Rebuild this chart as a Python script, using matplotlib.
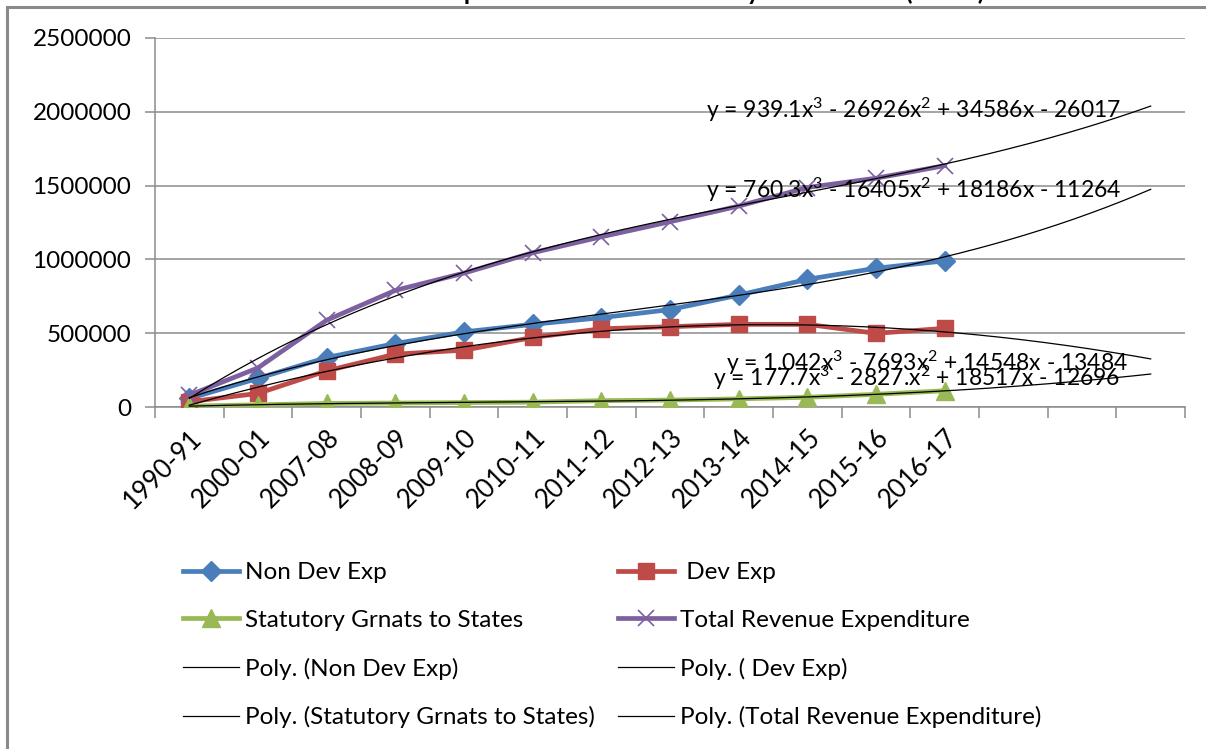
import numpy as np
import matplotlib
matplotlib.use("Agg")
from matplotlib import pyplot as plt
from matplotlib.ticker import FuncFormatter
from matplotlib.patches import Rectangle

years = ['1990-91', '2000-01', '2007-08', '2008-09', '2009-10', '2010-11',
         '2011-12', '2012-13', '2013-14', '2014-15', '2015-16', '2016-17']
non_dev = [58000, 194000, 335000, 430000, 509000, 560000,
           605000, 660000, 758000, 865000, 940000, 990000]
dev = [36000, 92000, 245000, 358000, 385000, 471000,
       530000, 544000, 560000, 560000, 499000, 533000]
statutory = [6000, 15000, 24000, 27000, 30000, 33000,
             43000, 47000, 55000, 66000, 86000, 110000]
total = [80000, 265000, 588000, 790000, 907000, 1045000,
         1153000, 1255000, 1361000, 1487000, 1550000, 1635000]
equations = ['y = 939.1x$^3$ - 26926x$^2$ + 34586x - 26017',
             'y = 760.3x$^3$ - 16405x$^2$ + 18186x - 11264',
             'y = 1.042x$^3$ - 7693x$^2$ + 14548x - 13484',
             'y = 177.7x$^3$ - 2827.x$^2$ + 18517x - 12696']
forward = 3

plt.rcParams['font.family'] = ['Lato', 'DejaVu Sans']
plt.rcParams['mathtext.default'] = 'regular'

fig = plt.figure(figsize=(12.06, 7.49), dpi=100)
ax = fig.add_axes([0.1285, 0.4566, 0.8541, 0.4927])

# chart frame (only top and left edge visible in the screenshot)
fig.patches.append(Rectangle((0.0058, -0.2), 1.2, 1.19, transform=fig.transFigure,
                             fill=False, edgecolor='#8a8a8a', lw=2.2))
fig.text(333 / 1206, 1.0, 'Revenue Expenditure of the Centre by Main Heads (Rs. Cr)',
         ha='left', va='baseline', fontsize=18, fontweight='bold')

x = np.arange(len(years))
series = [
    ('Non Dev Exp', non_dev, '#4a7ebb', 'D', 10.5, 0),
    (' Dev Exp', dev, '#be4b48', 's', 12, 0),
    ('Statutory Grnats to States', statutory, '#98b954', '^', 13, 0),
    ('Total Revenue Expenditure', total, '#7d60a0', 'x', 12, 1.2),
]

lines = []
trends = []
xt = np.linspace(0, len(years) - 1 + forward, 300)
for name, vals, col, mk, ms, mew in series:
    if mk == 'x':
        l, = ax.plot(x, vals, color=col, lw=3.4, marker=mk, ms=ms, mec=col, mew=mew,
                     label=name, zorder=3)
    else:
        l, = ax.plot(x, vals, color=col, lw=3.4, marker=mk, ms=ms, mec=col,
                     label=name, zorder=3)
    lines.append(l)
for name, vals, col, mk, ms, mew in series:
    c = np.polyfit(x, vals, 3)
    t, = ax.plot(xt, np.polyval(c, xt), color='black', lw=0.9,
                 label='Poly. (' + name + ')', zorder=4)
    trends.append(t)

# trendline equation labels
ax.text(10.55, 2010000, equations[0], ha='center', va='center', fontsize=16.5, zorder=5)
ax.text(10.55, 1470000, equations[1], ha='center', va='center', fontsize=16.5, zorder=5)
ax.text(10.74, 300000, equations[2], ha='center', va='center', fontsize=16.5, zorder=5)
ax.text(10.59, 200000, equations[3], ha='center', va='center', fontsize=16.5, zorder=5)

ax.set_xlim(-0.5, len(years) - 0.5 + forward)
ax.set_ylim(0, 2500000)
ax.set_yticks(np.arange(0, 2500001, 500000))
ax.yaxis.set_major_formatter(FuncFormatter(lambda v, _: '%d' % v))
ax.yaxis.grid(True, color='#8c8c8c', lw=1.1)
ax.set_axisbelow(True)
ax.set_xticks(x)
ax.set_xticklabels(years, rotation=45, ha='right', rotation_mode='anchor')
ax.set_xticks(np.arange(-0.5, len(years) + forward, 1), minor=True)
ax.tick_params(axis='x', which='major', length=0, pad=13, labelsize=18.5)
ax.tick_params(axis='x', which='minor', length=8, color='#8c8c8c', width=1.1)
ax.tick_params(axis='y', length=7, color='#8c8c8c', width=1.1, pad=10, labelsize=17.5)
for s in ['top', 'right']:
    ax.spines[s].set_visible(False)
for s in ['left', 'bottom']:
    ax.spines[s].set_color('#8c8c8c')
    ax.spines[s].set_linewidth(1.1)

handles = [lines[0], lines[2], trends[0], trends[2], lines[1], lines[3], trends[1], trends[3]]
fig.legend(handles=handles, labels=[h.get_label() for h in handles], ncol=2,
           loc='upper left', bbox_to_anchor=(183 / 1206, 1 - 562 / 749),
           frameon=False, fontsize=17.5, handlelength=2.3, handletextpad=0.25,
           columnspacing=0.95, labelspacing=1.1, borderpad=0, borderaxespad=0)

fig.savefig('out.png', dpi=100)
